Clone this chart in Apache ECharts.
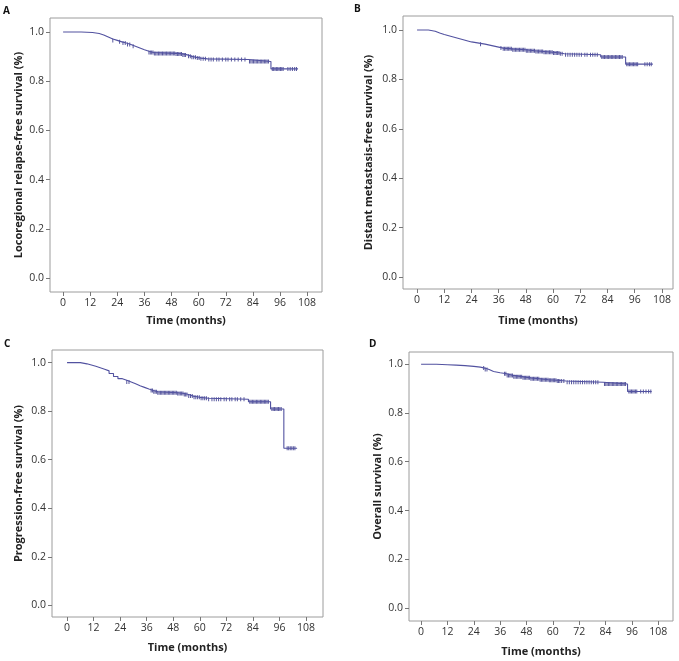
<!DOCTYPE html>
<html>
<head>
<meta charset="utf-8">
<script src="https://cdn.jsdelivr.net/npm/echarts@6/dist/echarts.min.js"></script>
<style>
  html, body { margin: 0; padding: 0; background: #fff; }
  #chart { width: 679px; height: 661px; }
</style>
</head>
<body>
<div id="chart"></div>
<script>
// tick labels
const monthTicks = [0, 12, 24, 36, 48, 60, 72, 84, 96, 108];
const survTicks = [0, 0.2, 0.4, 0.6, 0.8, 1.0];

// A - locoregional relapse-free survival
const timesA = [0, 8, 13, 16, 18, 20, 22, 24, 26, 28, 30, 32, 34, 36, 38, 40, 50, 53, 55, 57, 59, 61, 64, 82, 92, 104];
const survA = [1.0, 0.998, 0.994, 0.988, 0.98, 0.972, 0.966, 0.96, 0.955, 0.949, 0.942, 0.935, 0.928, 0.922, 0.917, 0.913, 0.911, 0.907, 0.901, 0.897, 0.894, 0.891, 0.888, 0.88, 0.85, 0.85];
const censorA = [22, 25, 26.5, 27.5, 28.5, 29.5, 31, 38, 38.6, 39.2, 39.8, 40.4, 41, 41.6, 42.2, 42.8, 43.4, 44, 44.6, 45.2, 45.8, 46.4, 47, 47.6, 48.2, 48.8, 49.4, 50, 50.6, 51.2, 51.8, 52.4, 53, 53.6, 54.2, 55.5, 56.3, 57, 57.8, 58.6, 59.4, 60.2, 61, 62, 63, 64.5, 65.5, 66.5, 68, 69, 70.5, 72, 73, 74.5, 76, 77.5, 79, 80.5, 82.5, 83.1, 83.7, 84.3, 84.9, 85.5, 86.1, 86.7, 87.3, 87.9, 88.5, 89.1, 89.7, 90.3, 90.9, 92.6, 93.2, 93.8, 94.4, 95, 95.6, 96.2, 96.8, 97.4, 99.5, 100.5, 101.5, 102.5, 103.3];

// B - distant metastasis-free survival
const timesB = [0, 5, 8, 10, 12, 14, 16, 18, 20, 22, 24, 26, 28, 30, 32, 34, 36, 38, 42, 48, 52, 56, 60, 63, 65, 81, 92, 104];
const survB = [1.0, 0.995, 0.988, 0.982, 0.977, 0.972, 0.967, 0.962, 0.957, 0.952, 0.949, 0.946, 0.943, 0.939, 0.935, 0.931, 0.927, 0.924, 0.92, 0.916, 0.913, 0.91, 0.907, 0.904, 0.9, 0.891, 0.862, 0.862];
const censorB = [28, 37, 38, 38.6, 39.2, 39.8, 40.4, 41, 41.6, 42.2, 42.8, 43.4, 44, 44.6, 45.2, 45.8, 46.4, 47, 47.6, 48.2, 48.8, 49.4, 50, 50.6, 51.2, 51.8, 52.4, 53, 53.6, 54.2, 54.8, 55.4, 56, 56.6, 57.2, 57.8, 58.4, 59, 59.6, 60.2, 60.8, 61.4, 62, 62.6, 63.2, 64, 65.5, 66.5, 67.5, 68.5, 69.5, 70.5, 71.5, 72.5, 74, 75, 76.5, 77.5, 78.5, 79.5, 81.5, 82.1, 82.7, 83.3, 83.9, 84.5, 85.1, 85.7, 86.3, 86.9, 87.5, 88.1, 88.7, 89.3, 89.9, 90.5, 92.5, 93.1, 93.7, 94.3, 94.9, 95.5, 96.1, 96.7, 97.3, 100.5, 101.5, 102.5, 103.3];

// C - progression-free survival
const timesC = [0, 6, 9, 11, 13, 15, 17, 19, 21, 23, 25, 27, 29, 31, 33, 35, 37, 39, 41, 50, 53, 55, 57, 60, 64, 82, 92, 98, 104];
const survC = [1.0, 0.995, 0.99, 0.985, 0.979, 0.973, 0.966, 0.955, 0.943, 0.934, 0.927, 0.92, 0.913, 0.905, 0.898, 0.891, 0.885, 0.88, 0.876, 0.873, 0.869, 0.862, 0.857, 0.853, 0.849, 0.839, 0.809, 0.647, 0.647];
const censorC = [27, 28, 38, 38.6, 39.2, 39.8, 40.4, 41, 41.6, 42.2, 42.8, 43.4, 44, 44.6, 45.2, 45.8, 46.4, 47, 47.6, 48.2, 48.8, 49.4, 50, 50.6, 51.2, 51.8, 52.4, 53, 53.6, 54.2, 55, 55.8, 56.6, 57.4, 58.2, 59, 59.8, 60.6, 61.4, 62.2, 63, 64, 65.5, 66.5, 67.5, 68.5, 69.5, 71, 72, 73.5, 74.5, 76, 77, 78.5, 80, 82.6, 83.2, 83.8, 84.4, 85, 85.6, 86.2, 86.8, 87.4, 88, 88.6, 89.2, 89.8, 90.4, 91, 92.6, 93.2, 93.8, 94.4, 95, 95.6, 96.2, 96.8, 99.5, 100.2, 100.9, 101.6, 102.3, 103];

// D - overall survival
const timesD = [0, 7, 12, 16, 20, 24, 27, 29, 31, 33, 36, 39, 42, 46, 50, 54, 58, 62, 66, 83, 94, 105];
const survD = [1.0, 0.998, 0.996, 0.994, 0.991, 0.988, 0.984, 0.978, 0.97, 0.965, 0.961, 0.954, 0.949, 0.944, 0.94, 0.936, 0.934, 0.931, 0.926, 0.919, 0.888, 0.888];
const censorD = [28.5, 29.2, 30, 38, 38.6, 39.2, 39.8, 40.4, 41, 41.6, 42.2, 42.8, 43.4, 44, 44.6, 45.2, 45.8, 46.4, 47, 47.6, 48.2, 48.8, 49.4, 50, 50.6, 51.2, 51.8, 52.4, 53, 53.6, 54.2, 54.8, 55.4, 56, 56.6, 57.2, 57.8, 58.4, 59, 59.6, 60.2, 60.8, 61.4, 62, 62.6, 63.2, 64, 65, 66.5, 67.5, 68.5, 69.5, 70.5, 71.5, 72.5, 73.5, 74.5, 75.5, 76.5, 77.5, 78.5, 79.5, 80.5, 83.5, 84.1, 84.7, 85.3, 85.9, 86.5, 87.1, 87.7, 88.3, 88.9, 89.5, 90.1, 90.7, 91.3, 91.9, 92.5, 93.1, 94.6, 95.2, 95.8, 96.4, 97, 97.6, 98.2, 100, 101.2, 102.4, 103.6, 104.6];

const panels = [
  { letter: "A", title: "Locoregional relapse-free survival (%)", times: timesA, surv: survA, censor: censorA,
    grid: { left: 50, top: 18, width: 272, height: 274 }, x: [-5.8, 114.6], y: [-0.057, 1.057], yGap: 26, xGap: 23, lx: 7, ly: 12 },
  { letter: "B", title: "Distant metastasis-free survival (%)", times: timesB, surv: survB, censor: censorB,
    grid: { left: 403, top: 16, width: 270, height: 273 }, x: [-6.2, 112.9], y: [-0.049, 1.057], yGap: 29, xGap: 26, lx: 358, ly: 10 },
  { letter: "C", title: "Progression-free survival (%)", times: timesC, surv: survC, censor: censorC,
    grid: { left: 52, top: 350, width: 271, height: 267 }, x: [-6.8, 115.7], y: [-0.048, 1.052], yGap: 28, xGap: 25, lx: 8, ly: 345 },
  { letter: "D", title: "Overall survival (%)", times: timesD, surv: survD, censor: censorD,
    grid: { left: 409, top: 352, width: 264, height: 269 }, x: [-5.5, 114.7], y: [-0.053, 1.05], yGap: 26, xGap: 25, lx: 373, ly: 345 }
];

// value of the KM step curve at time t
function survAt(times, surv, t) {
  let s = surv[0];
  for (let i = 0; i < times.length; i++) {
    if (times[i] <= t) s = surv[i];
  }
  return s;
}

const font = "Open Sans";
const lineColor = "#5252a0";
const markColor = "#3a3a8c";

let option = {
  animation: false,
  backgroundColor: "#fff",
  grid: [],
  xAxis: [],
  yAxis: [],
  series: [],
  graphic: []
};

panels.forEach(function (p, i) {
  option.grid.push(Object.assign({ show: true, borderColor: "#9c9c9c", borderWidth: 1 }, p.grid));
  option.xAxis.push({
    type: "value",
    gridIndex: i,
    min: p.x[0],
    max: p.x[1],
    name: "Time (months)",
    nameLocation: "middle",
    nameGap: p.xGap,
    nameTextStyle: { fontFamily: font, fontSize: 11, fontWeight: "bold", color: "#222" },
    splitLine: { show: false },
    axisLine: { show: false, onZero: false },
    axisTick: { show: true, length: 4, customValues: monthTicks, lineStyle: { color: "#777" } },
    axisLabel: { customValues: monthTicks, margin: 6, fontFamily: font, fontSize: 10.5, color: "#333" }
  });
  option.yAxis.push({
    type: "value",
    gridIndex: i,
    min: p.y[0],
    max: p.y[1],
    name: p.title,
    nameLocation: "middle",
    nameGap: p.yGap,
    nameTextStyle: { fontFamily: font, fontSize: 11, fontWeight: "bold", color: "#222" },
    splitLine: { show: false },
    axisLine: { show: false, onZero: false },
    axisTick: { show: true, length: 4, customValues: survTicks, lineStyle: { color: "#777" } },
    axisLabel: {
      customValues: survTicks, margin: 6, fontFamily: font, fontSize: 10.5, color: "#333",
      formatter: function (v) { return v.toFixed(1); }
    }
  });
  option.series.push({
    type: "line",
    xAxisIndex: i,
    yAxisIndex: i,
    step: "end",
    showSymbol: false,
    lineStyle: { width: 1.1, color: lineColor },
    data: p.times.map(function (t, k) { return [t, p.surv[k]]; })
  });
  option.series.push({
    type: "scatter",
    xAxisIndex: i,
    yAxisIndex: i,
    symbol: "rect",
    symbolSize: [1, 4],
    itemStyle: { color: markColor, opacity: 0.85 },
    data: p.censor.map(function (t) { return [t, survAt(p.times, p.surv, t)]; })
  });
  option.graphic.push({
    type: "text",
    left: p.lx - 4,
    top: p.ly - 6,
    style: { text: p.letter, font: "bold 10px " + font, fill: "#111" }
  });
});

let myChart = echarts.init(document.getElementById("chart"));
myChart.setOption(option);
</script>
</body>
</html>
